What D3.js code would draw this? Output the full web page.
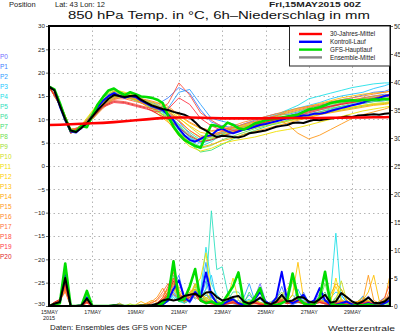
<!DOCTYPE html>
<html><head><meta charset="utf-8">
<script src="https://cdn.jsdelivr.net/npm/d3@7"></script>
<style>body{margin:0;background:#fff}svg{display:block}text{font-family:"Liberation Sans",Arial,sans-serif}</style>
</head><body><svg id="c" width="400" height="333"></svg>
<script>
// ---------- DATA ----------
const hours6 = d3.range(0, 379, 6);                  // 64 six-hourly steps (0..378 h)
const hours12 = d3.range(0, 373, 12).concat([378]);  // 33 twelve-hourly steps
const tempTicks = [30,25,20,15,10,5,0,-5,-10,-15,-20,-25,-30];
const precipTicks = [50,45,40,35,30,25,20,15,10,5,0];
const dateHours = [0,48,96,144,192,240,288,336];
const dateLabels = ["15MAY","17MAY","19MAY","21MAY","23MAY","25MAY","27MAY","29MAY"];
const memberNames = ["P0","P1","P2","P3","P4","P5","P6","P7","P8","P9","P10","P11","P12","P13","P14","P15","P16","P17","P18","P19","P20"];
const memberColors = ["#7070ff","#4080ff","#30a0ff","#20c8ff","#20e0e8","#30e0c0","#40e0a0","#40e070","#70e050","#a0e030","#d0e020","#f0e000","#ffd000","#ffc000","#ffa800","#ff9818","#ff8828","#ff7038","#ff5040","#ff3848","#e02828"];
const legendLabels = ["30-Jahres-Mittel","Kontroll-Lauf","GFS-Hauptlauf","Ensemble-Mittel"];
const legendColors = ["#ff0000","#0000ff","#00dd00","#888888"];

// 850 hPa temperature, members (12-hourly)
const memberTemp = [
[17,13.2,7.4,8.6,10.8,13.6,15.2,14.8,14.2,13.4,12.6,11.8,9.5,6.8,5.2,6.4,7.2,7.8,8.6,9.0,9.4,10.0,10.4,10.8,11.2,11.6,12.0,12.6,13.0,13.4,13.8,14.0,14.2],
[17,13.5,7.6,8.2,11.2,14.2,15.8,15.2,14.6,14.0,13.2,14.6,16.8,15.6,12.0,9.4,8.6,8.2,9.0,9.8,10.6,11.2,11.0,11.6,12.4,13.0,13.6,14.2,14.6,15.2,15.8,16.0,16.4],
[17,13.0,7.2,8.8,10.4,13.0,14.8,15.4,14.8,13.6,13.0,12.4,15.8,16.4,13.2,10.2,9.6,9.0,8.4,8.8,9.4,10.0,10.6,11.4,12.0,12.2,12.8,13.4,14.0,14.6,15.0,15.4,15.2],
[17,13.6,7.8,8.4,11.4,14.8,16.0,15.6,14.4,13.8,12.8,11.4,8.6,6.2,4.8,5.6,6.4,7.0,7.8,8.4,9.6,10.8,11.8,12.4,13.0,13.6,14.4,15.0,15.4,15.8,16.6,17.2,17.6],
[17,13.4,7.5,8.0,10.2,13.4,15.4,15.0,14.6,13.2,12.2,10.6,8.4,6.0,5.0,5.8,7.2,8.0,8.8,9.4,10.2,11.0,12.0,13.0,14.4,15.0,15.6,16.2,16.8,17.2,17.6,17.8,17.8],
[17,13.1,7.3,8.6,11.0,14.0,15.6,15.0,14.2,13.0,11.8,10.2,7.6,5.4,4.2,5.2,6.8,7.6,8.4,8.8,9.2,9.8,10.4,11.0,11.8,12.4,13.0,13.4,13.8,14.2,14.6,15.0,15.2],
[17,13.3,7.7,8.2,10.6,13.2,14.6,14.8,14.0,13.4,12.2,11.0,9.0,7.2,5.6,6.2,7.0,7.6,8.2,8.6,9.2,9.8,10.2,10.8,11.4,12.0,12.4,12.8,13.4,13.8,14.0,14.4,14.6],
[17,13.0,7.0,8.8,10.0,12.6,14.4,15.6,15.0,14.0,12.6,10.8,7.8,4.8,3.0,3.4,4.6,5.8,6.8,7.6,8.4,9.2,9.8,10.4,11.0,11.6,12.2,12.8,13.0,13.4,13.8,14.0,14.2],
[17,13.4,7.6,8.4,10.8,13.8,15.4,15.2,14.4,13.2,12.0,10.0,7.2,5.2,3.8,4.4,5.6,6.4,7.2,8.0,8.6,9.0,9.6,10.2,10.8,11.2,11.6,12.0,12.4,12.8,13.2,13.4,13.6],
[17,13.2,7.4,8.6,11.6,14.6,16.2,15.4,14.0,13.0,11.6,10.6,8.8,6.6,5.4,5.8,6.6,7.4,8.2,9.2,9.8,10.6,11.2,11.8,12.4,12.8,13.2,13.6,14.0,14.4,14.8,15.0,15.2],
[17,13.6,7.9,8.0,10.4,13.4,15.0,14.6,14.2,13.8,13.0,12.0,10.4,8.4,6.6,6.0,6.6,7.2,7.8,8.2,8.8,9.2,9.6,10.0,10.6,11.0,11.6,12.0,12.6,13.0,13.4,13.6,13.8],
[17,13.0,7.2,8.8,11.8,15.0,16.4,15.8,15.0,13.6,11.8,9.6,6.4,4.2,3.2,3.8,4.8,5.4,5.8,6.2,6.8,7.4,7.8,8.2,8.8,9.4,10.0,10.6,11.2,11.8,12.2,12.6,12.8],
[17,13.3,7.6,8.2,10.8,13.6,15.4,15.6,14.6,13.6,12.6,11.6,10.2,8.6,7.2,6.8,7.4,8.0,8.6,9.0,9.4,9.8,10.2,10.6,11.0,11.4,11.8,12.2,12.6,13.0,13.2,13.4,13.6],
[17,13.5,7.8,8.4,10.2,12.8,14.6,15.2,14.8,14.0,13.4,12.4,10.8,9.2,8.0,7.4,7.8,8.2,8.8,9.4,10.0,10.8,11.6,12.2,12.8,13.4,14.0,14.6,15.0,15.4,15.6,15.8,16.0],
[17,13.1,7.3,8.6,11.2,14.2,16.0,15.4,14.4,12.8,11.2,9.4,7.0,5.0,4.0,4.6,5.4,6.0,6.8,7.4,8.0,8.6,9.2,9.8,10.4,11.0,11.4,11.8,12.2,12.6,13.0,13.2,13.4],
[17,13.4,7.7,8.0,10.6,13.2,14.8,14.8,14.2,13.4,12.8,11.8,9.8,7.6,6.0,6.4,7.0,7.6,8.4,9.2,9.8,10.2,9.0,7.0,5.8,6.6,7.8,9.0,10.2,11.0,11.6,12.2,12.6],
[17,13.2,7.5,8.4,10.0,12.4,14.2,15.0,14.6,14.2,13.6,12.8,11.0,9.4,8.2,7.6,7.8,8.6,9.4,10.0,10.6,11.2,11.8,12.4,12.8,13.2,13.8,14.2,14.6,15.0,15.4,15.8,16.0],
[17,13.6,7.9,8.2,10.4,13.0,14.4,14.4,13.8,13.2,12.4,11.4,9.6,7.6,6.2,6.6,7.4,8.2,9.0,9.6,10.2,10.8,11.4,12.0,12.6,13.0,13.4,13.8,14.2,14.6,15.0,15.2,15.4],
[17,13.0,7.1,8.8,10.8,13.0,14.0,13.8,13.2,12.6,12.0,13.4,17.8,15.2,11.4,9.8,8.4,7.6,7.8,8.4,9.0,9.6,10.2,10.8,11.4,12.0,12.6,13.2,13.6,14.0,14.4,14.8,15.0],
[17,13.3,7.4,8.4,10.4,12.6,13.6,13.4,12.8,12.2,11.6,12.2,14.6,13.2,10.2,8.6,7.6,7.2,7.8,8.6,9.4,10.0,10.6,11.0,11.6,12.2,12.8,13.4,13.8,14.2,14.6,15.0,15.2],
[17,13.5,7.0,8.0,10.2,12.8,13.8,13.6,13.0,12.4,11.2,10.0,8.2,6.4,5.2,5.6,6.4,7.2,8.0,8.8,9.4,10.0,10.6,11.2,11.8,12.4,12.8,13.2,13.6,14.0,14.2,14.4,14.6]
];

// 6h precipitation, members (six-hourly)
const memberPrecip = [
[0,0.3,0.6,4.5,0,0,0.1,1.2, 0,0,0,0,0.2,0,0,0, 0,0,0,0,0.3,0.8,1.5,2.5, 1.2,0.5,1.0,3.0,0.8,2.0,1.0,0.5, 0.2,0.5,1.0,0.3,0.2,0.4,1.5,4.0, 1.0,0.3,0.5,2.0,0.6,0.2,0.8,1.6, 0.5,0.8,2.2,0.5,0.2,0.6,1.2,0.4, 0,0.2,0.6,1.8,0.5,0.2,0.4,0.8],
[0,0.2,0.5,3.8,0,0,0,1.0, 0,0,0,0,0.1,0.5,0,0, 0,0,0,0,0.2,0.6,2.0,3.5, 5.5,1.5,0.5,2.0,1.2,4.5,1.0,0.3, 0.5,1.0,0.4,0.2,0.8,2.0,0.8,1.2, 0.4,0.2,1.0,3.5,0.8,0.3,0.6,2.5, 0.6,0.3,1.5,0.8,0.3,1.0,2.0,0.6, 0.2,0.5,1.2,0.4,0.2,0.8,1.5,0.6],
[0,0.3,0.7,5.0,0,0,0.2,1.6, 0,0,0,0,0,0,0,0, 0,0,0,0,0,0.4,1.2,2.0, 1.5,0.8,2.5,1.2,2.0,7.8,1.5,0.6, 0.3,0.6,0.8,0.5,1.5,4.0,1.0,0.3, 0.2,0.6,1.2,0.8,0.4,0.8,3.0,1.0, 0.3,0.6,0.8,0.3,0.4,1.5,0.6,0.3, 0.2,0.6,1.8,0.6,0.3,0.5,1.0,2.0],
[0,0.4,0.8,6.0,0,0,0.1,2.0, 0,0,0,0,0,0,0,0, 0,0,0,0,0.2,0.6,1.0,1.8, 1.0,0.6,1.5,2.0,1.5,3.0,5.5,1.0, 0.5,0.3,0.6,1.0,0.5,0.8,0.4,0.6, 0.3,0.2,0.8,1.2,0.6,1.0,0.8,0.5, 0.4,0.8,1.0,0.6,1.5,2.5,2.0,0.6, 0.3,0.5,0.8,0.5,0.2,0.3,0.6,1.0],
[0,0.3,0.6,5.2,0,0,0,1.4, 0,0,0,0,0,0,0,0, 0,0,0,0,0.1,0.3,1.0,3.0, 1.2,0.8,2.0,1.5,2.5,10.5,4.0,2.0, 1.0,0.6,1.0,0.5,0.8,1.2,0.6,0.4, 0.3,0.5,1.0,1.5,0.8,0.5,1.2,0.8, 0.4,0.6,1.0,0.5,2.0,13.0,1.2,0.5, 0.3,0.8,1.5,0.8,0.4,0.6,0.8,1.2],
[0,0.2,0.5,4.0,0,0,0.1,1.0, 0,0,0,0,0,0,0,0, 0,0,0,0,0,0.2,0.8,1.5, 0.8,0.5,1.0,2.5,1.5,3.0,17.0,6.5, 7.0,2.5,0.8,0.3,0.5,0.8,1.2,0.6, 0.4,0.8,1.2,2.0,0.6,0.5,0.8,1.0, 0.6,0.3,0.8,1.2,0.5,1.0,0.6,0.3, 0.2,0.4,0.8,0.3,0.2,0.6,1.0,0.5],
[0,0.3,0.6,5.5,0,0,0,1.8, 0,0,0,0,0,0,0,0, 0,0,0,0,0.2,0.5,1.2,2.2, 1.0,0.8,1.5,3.0,1.0,2.0,1.5,0.8, 0.4,1.0,2.5,2.5,1.0,0.5,0.8,0.6, 0.3,0.4,0.8,1.0,2.0,5.5,1.0,0.5, 0.3,0.6,1.0,0.5,0.4,0.8,0.6,0.3, 0.2,0.5,0.8,0.4,0.3,0.6,0.8,0.4],
[0,0.2,0.6,6.5,0,0,0.1,2.4, 0,0,0,0,0,0,0,0, 0,0,0,0,0.1,0.4,1.8,5.5, 2.0,1.2,1.0,4.0,1.5,1.0,0.8,0.5, 0.3,0.8,1.5,0.6,0.4,2.5,0.8,0.4, 0.2,0.5,0.8,1.0,0.5,4.5,1.2,0.5, 0.3,0.5,1.5,2.5,0.6,0.4,0.8,0.5, 0.2,0.4,0.6,0.8,0.3,0.5,0.6,0.4],
[0,0.3,0.5,5.8,0,0,0,2.0, 0,0,0,0,0,0,0,0, 0,0,0,0,0.3,0.8,2.5,4.0, 1.5,0.8,2.0,3.5,1.0,1.5,1.0,0.5, 0.6,1.2,0.8,0.5,0.3,0.8,1.2,0.6, 0.4,0.6,1.5,2.5,1.0,0.8,0.6,0.4, 0.3,0.8,1.0,4.0,0.5,0.6,0.8,0.4, 0.2,0.3,0.5,1.0,0.4,0.3,0.5,0.8],
[0,0.2,0.4,4.8,0,0,0,1.2, 0,0,0,0,0,0,0,0, 0,0,0,0,0.2,0.6,1.4,3.2, 1.8,0.6,1.2,2.2,0.8,1.4,2.0,0.8, 0.3,0.6,1.0,0.4,0.5,1.0,0.6,0.3, 0.2,0.3,0.6,1.5,0.8,2.0,0.8,0.4, 0.2,0.5,0.8,0.6,0.3,1.5,3.0,0.8, 0.3,0.4,0.6,0.3,0.2,0.8,1.2,0.6],
[0,0.4,0.8,5.0,0,0,0.1,1.6, 0,0,0,0,0,0,0,0.4, 0,0,0,0,0.4,1.0,2.0,4.5, 2.5,1.0,1.5,3.0,2.0,1.2,0.8,0.4, 0.2,0.5,0.8,0.4,0.3,0.6,1.0,0.5, 0.3,0.4,0.8,1.2,0.6,1.0,0.8,0.6, 0.4,0.6,0.8,0.5,0.6,1.0,4.5,1.0, 0.4,0.3,0.6,0.5,0.3,0.4,0.8,0.6],
[0,0.5,0.9,4.2,0,0,0,1.0, 0,0,0,0,0,0.5,0,0, 0,0,0,0,0.3,0.6,1.8,3.0, 1.5,0.8,2.0,3.5,5.0,9.5,2.0,1.0, 0.5,1.2,5.0,1.0,0.4,0.8,0.6,0.3, 0.2,0.4,0.6,1.0,0.5,0.8,1.5,0.6, 0.4,0.8,1.0,0.6,0.5,5.0,1.0,0.5, 0.3,0.5,0.8,1.0,0.5,0.3,0.6,1.0],
[0,0.4,0.7,3.5,0,0,0,0.8, 0,0,0,0,0,0,0,0, 0,0.3,0,0,0.4,1.0,2.5,5.0, 2.0,1.0,3.0,2.0,1.5,2.5,1.0,0.6, 0.4,0.8,1.2,0.6,0.3,0.5,0.8,0.4, 0.3,0.6,1.2,2.0,3.0,4.5,1.0,0.5, 0.3,0.6,0.8,0.5,1.0,3.5,1.2,0.6, 0.4,0.8,1.0,0.6,0.3,0.5,0.8,1.5],
[0,0.5,0.8,3.0,0,0,0,0.6, 0,0,0,0,0,0,0,0, 0.2,0.8,0.3,0,0.5,1.5,3.0,6.5, 3.0,1.5,2.0,4.0,2.0,1.5,0.8,0.5, 0.3,0.6,1.0,0.5,0.4,0.6,1.0,0.6, 0.3,0.5,1.0,1.5,0.8,2.0,7.8,1.5, 0.5,0.8,1.0,0.6,0.4,0.8,1.0,0.5, 0.3,0.6,1.0,2.5,5.5,1.0,0.6,0.8],
[0,0.6,1.0,3.2,0,0,0.1,0.8, 0,0,0,0,0,0,0,0, 0,0,0.5,1.0,0.6,1.2,2.0,7.5, 2.0,1.5,2.5,3.0,2.0,1.0,0.6,0.4, 0.3,0.5,0.8,0.4,0.3,0.4,0.6,0.5, 0.3,0.6,0.8,1.0,0.6,0.8,1.0,0.5, 0.4,0.5,0.8,1.0,2.0,4.0,3.0,1.0, 0.5,0.8,1.5,0.8,0.4,0.6,1.0,5.5],
[0,0.5,0.9,2.8,0,0,0,0.7, 0,0,0,0,0,0,0,0, 0,0,0,0.8,1.6,3.2,1.5,4.0, 1.5,1.0,2.0,1.5,1.0,0.8,0.5,0.3, 0.2,0.5,0.6,0.3,0.2,0.3,0.5,0.3, 0.2,0.3,0.6,0.8,0.4,0.6,0.8,0.4, 0.3,0.5,0.6,0.4,0.3,0.5,0.8,0.6, 0.4,0.8,1.0,5.5,1.0,0.5,0.6,0.8],
[0,0.6,1.0,2.5,0,0,0,0.6, 0,0,0,0,0,0,0,0, 0,0,0.4,0.6,1.0,2.0,3.0,3.5, 2.5,1.2,1.5,2.5,1.0,0.6,0.4,0.3, 0.2,0.4,0.5,0.3,0.2,0.3,0.4,0.3, 0.2,0.4,0.6,0.8,0.5,1.0,1.2,0.6, 0.4,0.6,0.8,0.5,0.3,0.6,0.8,0.4, 0.2,0.4,0.6,0.8,0.4,0.3,0.5,3.0],
[0,0.5,0.8,3.0,0,0,0,0.5, 0,0,0,0,0,0,0,0, 0,0,0,0.5,1.2,2.5,4.0,2.0, 1.5,1.0,1.8,2.0,1.0,0.8,0.5,0.4, 0.3,0.5,0.8,0.4,0.3,0.5,0.8,0.4, 0.2,0.3,0.6,1.0,0.6,0.8,1.5,0.8, 0.4,0.6,1.0,0.6,0.3,0.5,0.6,0.4, 0.3,0.5,0.8,0.6,0.4,0.5,1.0,2.0],
[0,0.6,1.1,3.5,0,0,0,0.6, 0,0,0,0,0,0,0,0, 0,0,0,0,0.6,1.5,3.5,6.0, 2.0,1.0,1.5,2.0,1.2,0.8,0.6,0.3, 0.2,0.4,0.6,0.3,0.2,0.4,0.6,0.3, 0.2,0.4,0.8,1.2,0.6,0.8,1.0,0.5, 0.3,0.5,0.8,0.5,0.3,0.5,0.8,0.5, 0.3,0.4,0.6,0.8,0.5,0.6,1.5,4.0],
[0,0.5,0.9,3.8,0,0,0,0.7, 0,0,0,0,0,0,0,0, 0,0,0,0,0.5,1.2,2.5,5.0, 2.0,1.2,2.0,2.5,1.0,0.8,0.5,0.3, 0.3,0.5,0.8,0.4,0.3,0.5,0.7,0.4, 0.2,0.3,0.6,1.0,0.5,0.7,0.8,0.4, 0.3,0.4,0.7,0.4,0.3,0.4,0.6,0.4, 0.2,0.4,0.5,0.6,0.4,0.5,0.8,1.5],
[0,0.7,1.2,4.0,0,0,0,0.8, 0,0,0,0,0,0,0,0, 0,0,0,0,0.4,1.0,2.0,4.5, 1.5,0.8,1.6,2.0,0.8,0.6,0.4,0.3, 0.2,0.4,0.6,0.3,0.2,0.3,0.5,0.3, 0.2,0.3,0.5,0.8,0.4,0.6,0.7,0.4, 0.3,0.4,0.6,0.4,0.2,0.4,0.5,0.3, 0.2,0.3,0.5,0.6,0.3,0.4,0.6,1.2]
];

// Main runs (six-hourly)
const controlTemp = [17,16.3,12.8,9.8,7.4,7.2,8.2,9.0,10.8,12.6,14.0,15.0,15.6,15.0,14.6,15.0,14.8,14.0,13.4,12.8,12.4,12.0,11.0,9.8,8.0,6.6,5.6,5.2,5.8,6.4,6.6,7.6,8.0,7.4,7.0,7.4,7.8,8.0,8.4,8.8,9.0,9.3,9.6,9.9,10.2,10.4,10.6,10.8,10.9,11.2,11.2,11.4,11.8,12.1,12.4,12.7,13.0,13.3,13.6,14.0,14.3,14.6,15.0,15.2];
const operTemp = [17,16.4,13.5,10.2,7.6,7.4,8.6,8.3,10.8,13.2,14.8,16.2,16.6,15.8,15.2,15.8,15.4,14.9,14.8,14.6,14.2,13.5,10.8,8.4,6.8,5.6,4.9,4.3,3.9,6.5,8.8,8.6,8.2,9.3,8.8,8.1,7.8,8.4,9.1,9.4,9.8,10.0,10.2,10.4,10.6,10.8,11.0,11.6,12.1,12.3,12.6,13.0,13.5,13.7,13.9,14.0,14.1,14.0,14.2,14.1,14.3,14.2,14.4,14.3];
const meanTemp = [17,16.2,13.0,10.0,7.6,7.3,8.2,9.2,10.6,12.0,13.2,14.4,15.2,15.0,14.8,15.0,15.1,14.2,13.6,13.0,12.6,12.2,12.0,11.6,11.3,11.0,10.4,9.4,8.2,7.6,6.8,6.2,6.5,6.4,6.2,6.1,6.4,7.0,7.2,7.4,7.6,8.0,8.4,8.6,8.8,9.2,9.3,9.2,9.6,9.9,9.8,10.0,10.2,10.3,10.4,10.6,10.5,10.8,10.9,11.0,11.1,11.0,11.2,11.3];
const climTemp = [8.8,8.85,8.95,9.05,9.15,9.25,9.4,9.6,9.8,10.0,10.2,10.35,10.4,10.4,10.35,10.3,10.2,10.2,10.2,10.2,10.2,10.25,10.3,10.3,10.3,10.3,10.35,10.35,10.4,10.4,10.45,10.45,10.5];
const controlPrecip = [0,0.3,0.6,5.5,0,0,0.1,1.5,0,0,0,0,0,0,0,0,0,0,0,0,0,0.3,1.0,3.0,4.6,1.5,0.8,2.5,1.5,6.0,2.0,0.5,0.3,0.8,1.2,0.5,0.2,0.5,1.2,2.5,0.8,0.3,1.5,6.1,1.0,0.5,1.0,2.0,0.5,1.0,3.2,1.0,0.3,0.2,0.5,0.8,0.3,0,0.2,0.5,0.2,0,0.5,1.0];
const operPrecip = [0,0.3,0.5,7.6,0,0,0.1,2.7,0,0,0,0,0.1,0,0,0,0,0,0,0,0.2,0.5,1.5,8.0,1.0,1.2,3.5,6.6,1.0,0.5,0.8,0.3,0.5,2.0,3.5,6.0,0.5,0.2,1.5,3.2,0.3,0,0.2,0.5,1.0,5.8,1.5,0.5,0.2,0.3,1.5,6.1,0.5,0.1,0.2,0.1,0,0.2,0.1,0.3,0.1,0,0,0.1];
const meanPrecip = [0,0.4,0.7,5.0,0,0,0.1,1.3,0,0,0,0,0.1,0.1,0,0,0,0.1,0.1,0.2,0.4,1.0,1.2,1.0,1.2,1.8,2.0,2.2,1.6,2.4,2.5,1.6,1.0,1.2,1.6,1.8,0.8,0.4,0.8,1.5,0.6,0.3,0.8,2.0,0.8,1.0,1.6,1.5,0.8,0.6,1.2,2.0,0.6,0.8,2.3,1.6,0.8,0.4,0.8,1.5,0.6,0.5,0.8,1.6];

// ---------- DRAW ----------
const svg = d3.select('#c');
const L = 49, R = 390, T = 26, B = 306;
const x = d3.scaleLinear().domain([0, 378]).range([L, R]);
const yT = d3.scaleLinear().domain([-30, 30]).range([B, T]);
const yP = d3.scaleLinear().domain([0, 50]).range([B, T]);
const minus = v => v < 0 ? "\u2212" + Math.abs(v) : String(v);

// header texts
svg.append('text').attr('x', 9).attr('y', 7).attr('font-size', 7.5).attr('fill', '#222').text('Position');
svg.append('text').attr('x', 55).attr('y', 7).attr('font-size', 7.5).attr('fill', '#222').text('Lat: 43 Lon: 12');
svg.append('text').attr('x', 269).attr('y', 7).attr('font-size', 7.5).attr('font-weight', 'bold').attr('fill', '#222')
  .attr('textLength', 92).attr('lengthAdjust', 'spacingAndGlyphs').text('Fri,15MAY2015 00Z');
svg.append('text').attr('x', 68).attr('y', 18.5).attr('font-size', 10.5).attr('fill', '#111')
  .attr('textLength', 302).attr('lengthAdjust', 'spacingAndGlyphs').text('850 hPa Temp. in \u00B0C, 6h\u2013Niederschlag in mm');

// grid
const grid = svg.append('g').attr('stroke', '#b4b4b4').attr('stroke-width', 1).attr('stroke-dasharray', '1.5,3');
grid.selectAll('line.h').data(tempTicks.filter(t => t > -30 && t < 30)).join('line')
  .attr('x1', L).attr('x2', R).attr('y1', d => Math.round(yT(d)) + 0.5).attr('y2', d => Math.round(yT(d)) + 0.5);
grid.selectAll('line.v').data(dateHours.slice(1)).join('line')
  .attr('x1', d => Math.round(x(d)) + 0.5).attr('x2', d => Math.round(x(d)) + 0.5).attr('y1', T).attr('y2', B);

// clip
svg.append('clipPath').attr('id', 'clip').append('rect').attr('x', L).attr('y', T).attr('width', R - L).attr('height', B - T);
const plot = svg.append('g').attr('clip-path', 'url(#clip)');

const line12T = d3.line().x((d, i) => x(hours12[i])).y(d => yT(d));
const line6T = d3.line().x((d, i) => x(hours6[i])).y(d => yT(d));
const line6P = d3.line().x((d, i) => x(hours6[i])).y(d => yP(d));

// members
plot.append('g').selectAll('path').data(memberTemp).join('path')
  .attr('d', line12T).attr('fill', 'none').attr('stroke', (d, i) => memberColors[i]).attr('stroke-width', 0.9);
plot.append('g').selectAll('path').data(memberPrecip).join('path')
  .attr('d', line6P).attr('fill', 'none').attr('stroke', (d, i) => memberColors[i]).attr('stroke-width', 0.9);

// main runs
const mains = [
  [controlTemp, line6T, '#0000ff', 2], [operTemp, line6T, '#00dd00', 2.6], [meanTemp, line6T, '#000000', 2],
  [controlPrecip, line6P, '#0000ff', 2], [operPrecip, line6P, '#00dd00', 2.6], [meanPrecip, line6P, '#000000', 2]
];
mains.forEach(([data, gen, col, w]) => {
  plot.append('path').datum(data).attr('d', gen).attr('fill', 'none').attr('stroke', col).attr('stroke-width', w).attr('stroke-linejoin', 'round');
});
plot.append('path').datum(climTemp).attr('d', line12T).attr('fill', 'none').attr('stroke', '#ff0000').attr('stroke-width', 2.6);

// axes
const axL = svg.append('g').attr('transform', `translate(${L},0)`)
  .call(d3.axisLeft(yT).tickValues(tempTicks).tickSize(3).tickPadding(1).tickFormat(minus));
const axR = svg.append('g').attr('transform', `translate(${R},0)`)
  .call(d3.axisRight(yP).tickValues(precipTicks).tickSize(3).tickPadding(1));
const axB = svg.append('g').attr('transform', `translate(0,${B})`)
  .call(d3.axisBottom(x).tickValues(dateHours).tickSize(0).tickPadding(4).tickFormat((d, i) => dateLabels[i]));
[axL, axR, axB].forEach(a => {
  a.select('.domain').remove();
  a.selectAll('text').attr('font-family', '"Liberation Sans",Arial,sans-serif').attr('fill', '#222');
  a.selectAll('line').attr('stroke', '#666');
});
axL.selectAll('text').attr('font-size', 6.2);
axL.selectAll('.tick').filter(d => d === -30).select('text').attr('dy', '-0.05em');
axR.selectAll('text').attr('font-size', 6.5);
axB.selectAll('text').attr('font-size', 5.5).attr('textLength', 17).attr('lengthAdjust', 'spacingAndGlyphs');
axB.append('text').attr('x', x(0)).attr('y', 14).attr('font-size', 5.5).attr('text-anchor', 'middle').attr('fill', '#222').text('2015');

// frame
svg.append('rect').attr('x', L).attr('y', T).attr('width', R - L).attr('height', B - T)
  .attr('fill', 'none').attr('stroke', '#000').attr('stroke-width', 2);

// member labels
svg.append('g').selectAll('text').data(memberNames).join('text')
  .attr('x', 0).attr('y', (d, i) => 58.5 + 10 * i).attr('font-size', 6.5).attr('fill', (d, i) => memberColors[i]).text(d => d);

// legend
const lg = svg.append('g');
lg.append('rect').attr('x', 289.5).attr('y', 26).attr('width', 100.5).attr('height', 40).attr('fill', '#fff').attr('stroke', '#222').attr('stroke-width', 1);
legendLabels.forEach((lab, i) => {
  const yy = 34 + 7.8 * i;
  lg.append('line').attr('x1', 299).attr('x2', 322).attr('y1', yy).attr('y2', yy).attr('stroke', legendColors[i]).attr('stroke-width', 2.4);
  lg.append('text').attr('x', 330).attr('y', yy + 2.2).attr('font-size', 6.3).attr('fill', '#222').text(lab);
});

// footer
svg.append('text').attr('x', 50).attr('y', 330).attr('font-size', 7.5).attr('fill', '#222')
  .attr('textLength', 137).attr('lengthAdjust', 'spacingAndGlyphs').text('Daten: Ensembles des GFS von NCEP');
svg.append('text').attr('x', 328).attr('y', 331).attr('font-size', 8).attr('fill', '#222')
  .attr('textLength', 67).attr('lengthAdjust', 'spacingAndGlyphs').text('Wetterzentrale');
</script></body></html>
